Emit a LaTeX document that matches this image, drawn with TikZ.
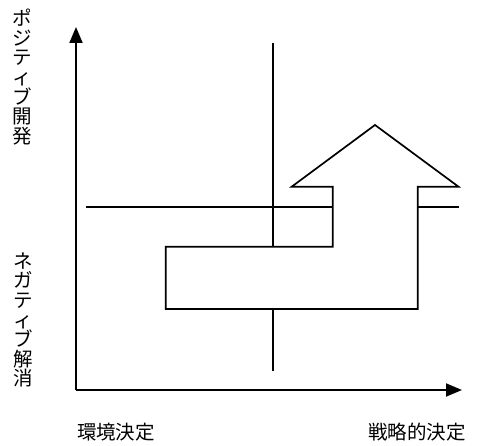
\documentclass[tikz,border=0pt]{standalone}
\usepackage{fontspec}
\setmainfont{Noto Sans CJK JP}
\usetikzlibrary{arrows.meta}
\tikzset{
  ln/.style={line width=1.7pt},
  axis/.style={line width=1.9pt,-{Triangle[length=16pt,width=13pt]}},
  lbl/.style={inner sep=0pt,font=\fontsize{19.5pt}{19.6pt}\selectfont},
  vlbl/.style={lbl,align=center}
}
\begin{document}
\begin{tikzpicture}[x=1pt,y=-1pt]
\useasboundingbox (0,0) rectangle (480,446);
% axes
\coordinate (o) at (76,390);
\coordinate (ytop) at (76,27);
\coordinate (xend) at (462,390);
\draw[axis] (o) -- (ytop);
\draw[axis] (o) -- (xend);
% quadrant lines
\coordinate (hl) at (86,207);
\coordinate (hr) at (459,207);
\coordinate (vt) at (272.7,43);
\coordinate (vb) at (272.7,371);
\draw[ln] (hl) -- (hr);
\draw[ln] (vt) -- (vb);
% big bent arrow
\draw[ln,fill=white,line join=miter]
  (165.7,246.7) -- (332.7,246.7) -- (332.7,186.7) -- (291.7,186.7)
  -- (375,125) -- (458.5,186.7) -- (417.7,186.7) -- (417.7,309)
  -- (165.7,309) -- cycle;
% labels
\node[vlbl] (pos) at (22,77) {ポ\\ジ\\テ\\ィ\\ブ\\開\\発};
\node[vlbl] (neg) at (23,320) {ネ\\ガ\\テ\\ィ\\ブ\\解\\消};
\node[lbl] (env) at (116,432) {環境決定};
\node[lbl] (str) at (417,432) {戦略的決定};
\end{tikzpicture}
\end{document}
